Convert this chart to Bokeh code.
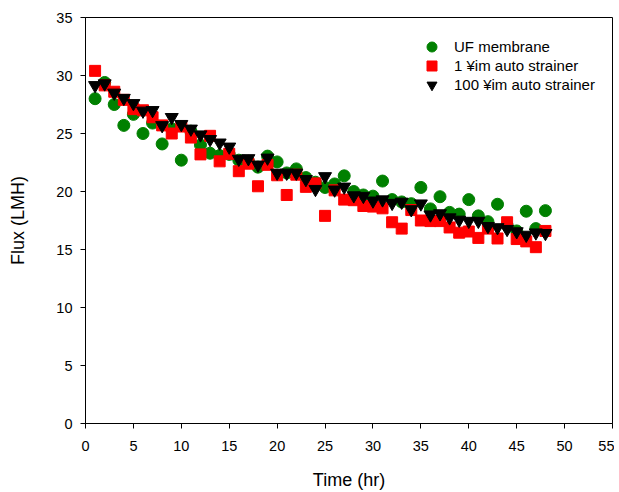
from bokeh.plotting import figure
from bokeh.models import FixedTicker, Legend, LegendItem, ColumnDataSource, Range1d
from bokeh.embed import file_html
from bokeh.resources import INLINE

time_hr = list(range(1, 49))

uf_membrane = [28.0, 29.4, 27.5, 25.7, 26.65, 25.0, 25.9, 24.1, 25.4, 22.7,
               25.2, 24.0, 23.3, 23.1, 23.2, 22.7, 22.6, 22.1, 23.05, 22.55,
               21.6, 21.95, 21.2, 20.8, 20.35, 20.65, 21.35, 20.0, 19.7, 19.6,
               20.9, 19.3, 19.1, 18.95, 20.35, 18.5, 19.55, 18.2, 18.05, 19.3,
               17.9, 17.4, 18.9, 17.1, 16.6, 18.3, 16.8, 18.35]

strainer_1um = [30.4, 29.15, 28.6, 27.9, 27.1, 27.0, 26.4, 25.7, 25.0, 25.6,
                24.65, 23.2, 24.8, 22.6, 23.25, 21.75, 22.4, 20.45, 22.3, 21.4,
                19.7, 21.45, 20.4, 20.7, 17.9, 20.1, 19.3, 19.25, 18.75, 18.7,
                18.55, 17.35, 16.8, 18.4, 17.5, 17.45, 17.45, 16.9, 16.45, 16.55,
                16.0, 16.8, 15.95, 17.35, 15.9, 15.7, 15.2, 16.6]

strainer_100um = [29.15, 29.3, 28.5, 28.05, 27.6, 26.95, 27.0, 25.7, 26.4, 25.8,
                  25.4, 24.9, 24.5, 24.2, 23.85, 22.8, 22.85, 22.3, 22.9, 21.6,
                  21.6, 21.6, 21.05, 20.2, 21.3, 20.15, 20.4, 19.65, 19.6, 19.2,
                  19.3, 19.0, 19.1, 18.45, 18.95, 18.0, 18.1, 17.75, 17.55, 17.45,
                  17.45, 17.0, 16.9, 16.75, 16.55, 16.25, 16.45, 16.4]

x_ticks = [0, 5, 10, 15, 20, 25, 30, 35, 40, 45, 50, 55]
y_ticks = [0, 5, 10, 15, 20, 25, 30, 35]
series_labels = ["UF membrane", "1 \u00a5im auto strainer", "100 \u00a5im auto strainer"]

FONT = "Liberation Sans"

p = figure(width=614, height=492, output_backend="svg", toolbar_location=None,
           x_range=Range1d(0, 55), y_range=Range1d(0, 35),
           min_border_left=85, min_border_right=2, min_border_top=17, min_border_bottom=68)

p.grid.visible = False
p.outline_line_color = "black"
p.outline_line_width = 1
p.background_fill_color = "white"
p.border_fill_color = "white"

src = ColumnDataSource(dict(t=time_hr, uf=uf_membrane, s1=strainer_1um, s100=strainer_100um))

r1 = p.scatter("t", "uf", source=src, marker="circle", size=12,
               fill_color="#008000", line_color="#008000")
r2 = p.scatter("t", "s1", source=src, marker="square", size=11,
               fill_color="#FF0000", line_color="#FF0000")
r3 = p.scatter("t", "s100", source=src, marker="inverted_triangle", size=13,
               fill_color="black", line_color="black")

for ax, ticks in ((p.xaxis[0], x_ticks), (p.yaxis[0], y_ticks)):
    ax.ticker = FixedTicker(ticks=ticks)
    ax.minor_tick_line_color = None
    ax.major_tick_in = 0
    ax.major_tick_out = 5
    ax.axis_line_color = "black"
    ax.major_tick_line_color = "black"
    ax.major_label_text_color = "black"
    ax.major_label_text_font = FONT
    ax.major_label_text_font_size = "14.5px"
    ax.axis_label_text_font = FONT
    ax.axis_label_text_font_size = "18px"
    ax.axis_label_text_font_style = "normal"
    ax.axis_label_text_color = "black"

p.xaxis[0].axis_label = "Time (hr)"
p.xaxis[0].major_label_standoff = 12
p.xaxis[0].axis_label_standoff = 16
p.yaxis[0].axis_label = "Flux (LMH)"
p.yaxis[0].major_label_standoff = 8
p.yaxis[0].axis_label_standoff = 25

# one single-item legend per series so rows can sit closer than the glyph box
legend_rows = [(series_labels[0], r1, 364), (series_labels[1], r2, 345), (series_labels[2], r3, 326)]
for label, rend, ypos in legend_rows:
    lg = Legend(items=[LegendItem(label=label, renderers=[rend])], location=(334, ypos))
    lg.background_fill_alpha = 0
    lg.border_line_color = None
    lg.padding = 5
    lg.margin = 0
    lg.glyph_width = 25
    lg.glyph_height = 25
    lg.label_height = 19
    lg.label_standoff = 10
    lg.label_text_font = FONT
    lg.label_text_font_size = "15px"
    lg.label_text_color = "black"
    p.add_layout(lg)

open("out.html", "w").write(file_html(p, INLINE))
